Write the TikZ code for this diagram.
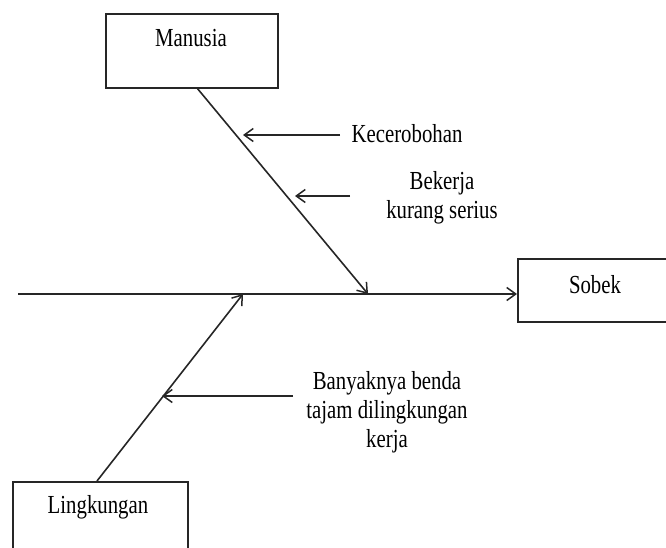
\documentclass[tikz,border=0pt]{standalone}
\usepackage{fontspec}
\setmainfont{Liberation Serif}[FakeStretch=0.8]
\usetikzlibrary{arrows.meta}
\tikzset{
  box/.style={draw=black!85, line width=1.7pt, fill=white, inner sep=0pt},
  lbl/.style={font=\fontsize{26}{29}\selectfont, inner sep=0pt, align=center},
  bone/.style={draw=black!85, line width=1.6pt},
  arr/.style={bone, -{Straight Barb[length=9pt,width=13pt,line width=1.5pt]}}
}
\begin{document}
\begin{tikzpicture}[x=1pt,y=-1pt]
\useasboundingbox (0,0) rectangle (666,548);
\clip (0,0) rectangle (666,548);
% boxes
\node[box, minimum width=172pt, minimum height=74pt] (manusia) at (192,51) {};
\node[lbl] (tmanusia) at (191,38) {Manusia};
\node[box, minimum width=160pt, minimum height=63pt, anchor=north west] (sobek) at (517,258) {};
\node[lbl] (tsobek) at (595,285) {Sobek};
\node[box, minimum width=175pt, minimum height=80pt, anchor=north west] (lingk) at (12,481) {};
\node[lbl] (tlingk) at (98,507) {Lingkungan};
% spine
\coordinate (tail) at (18,294);
\coordinate (head) at (517,294);
\draw[arr] (tail) -- (head);
% main bones
\coordinate (mtop) at (197,88);
\coordinate (mjoin) at (368,294);
\draw[arr] (mtop) -- (mjoin);
\coordinate (lbot) at (97,481);
\coordinate (ljoin) at (243,294);
\draw[arr] (lbot) -- (ljoin);
% causes
\node[lbl] (kec) at (407,134) {Kecerobohan};
\coordinate (kectip) at (243,135);
\coordinate (kectail) at (340,135);
\draw[arr] (kectail) -- (kectip);
\node[lbl] (bek) at (442,198) {Bekerja\\kurang serius};
\coordinate (bektip) at (295,196);
\coordinate (bektail) at (350,196);
\draw[arr] (bektail) -- (bektip);
\node[lbl] (ban) at (387,412) {Banyaknya benda\\tajam dilingkungan\\kerja};
\coordinate (bantip) at (162,396);
\coordinate (bantail) at (293,396);
\draw[arr] (bantail) -- (bantip);
\end{tikzpicture}
\end{document}
